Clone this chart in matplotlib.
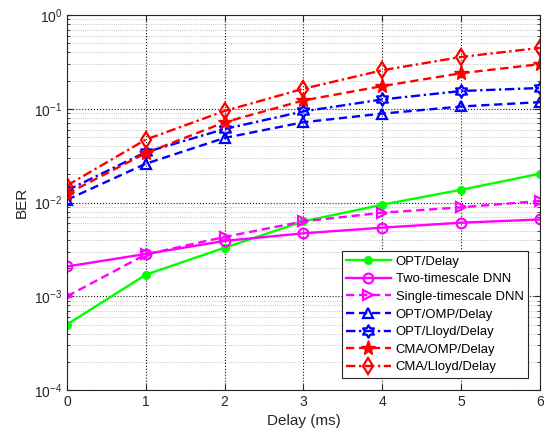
import matplotlib
matplotlib.use("Agg")
import numpy as np
import matplotlib.pyplot as plt
from matplotlib.path import Path
from matplotlib.ticker import LogLocator, NullFormatter

plt.rcParams['font.family'] = ['Liberation Sans', 'DejaVu Sans']
plt.rcParams['mathtext.default'] = 'regular'

delay = [0, 1, 2, 3, 4, 5, 6]
opt_delay = [5.0e-4, 1.7e-3, 3.3e-3, 6.3e-3, 9.5e-3, 1.37e-2, 2.03e-2]
two_ts_dnn = [2.08e-3, 2.83e-3, 3.9e-3, 4.7e-3, 5.4e-3, 6.1e-3, 6.6e-3]
single_ts_dnn = [1.0e-3, 2.8e-3, 4.3e-3, 6.3e-3, 7.8e-3, 8.9e-3, 1.04e-2]
opt_omp = [1.07e-2, 2.6e-2, 4.9e-2, 7.2e-2, 8.9e-2, 0.106, 0.118]
opt_lloyd = [1.35e-2, 3.45e-2, 6.1e-2, 9.4e-2, 0.126, 0.155, 0.167]
cma_omp = [1.24e-2, 3.37e-2, 7.2e-2, 0.123, 0.175, 0.24, 0.30]
cma_lloyd = [1.52e-2, 4.7e-2, 9.5e-2, 0.164, 0.258, 0.358, 0.447]

labels = ['OPT/Delay', 'Two-timescale DNN', 'Single-timescale DNN',
          'OPT/OMP/Delay', 'OPT/Lloyd/Delay', 'CMA/OMP/Delay', 'CMA/Lloyd/Delay']

# six-pointed star (hexagram) marker
ang = np.pi / 2 + np.arange(12) * np.pi / 6
rad = np.where(np.arange(12) % 2 == 0, 1.0, 0.577)
verts = np.column_stack([rad * np.cos(ang), rad * np.sin(ang)])
verts = np.vstack([verts, verts[0]])
hexagram = Path(verts, [Path.MOVETO] + [Path.LINETO] * 11 + [Path.CLOSEPOLY])

fig = plt.figure(figsize=(5.46, 4.4), dpi=100)
ax = fig.add_axes([0.1227, 0.1136, 0.8663, 0.852])

lw = 1.7
mew = 1.6
dash = (0, (3.5, 2))
dashdot = (0, (4, 1.5, 1, 1.5))
ax.plot(delay, opt_delay, color=(0, 1, 0), ls='-', lw=lw, marker='o', ms=5.5,
        mfc=(0, 1, 0), mec=(0, 1, 0), label=labels[0])
ax.plot(delay, two_ts_dnn, color=(1, 0, 1), ls='-', lw=lw, marker='o', ms=7,
        mfc='none', mec=(1, 0, 1), mew=mew, label=labels[1])
ax.plot(delay, single_ts_dnn, color=(1, 0, 1), ls=dash, lw=lw, marker='>', ms=7,
        mfc='none', mec=(1, 0, 1), mew=mew, label=labels[2])
ax.plot(delay, opt_omp, color=(0, 0, 1), ls=dash, lw=lw, marker='^', ms=7,
        mfc='none', mec=(0, 0, 1), mew=mew, label=labels[3])
ax.plot(delay, opt_lloyd, color=(0, 0, 1), ls=dashdot, lw=lw, marker=hexagram, ms=9,
        mfc='none', mec=(0, 0, 1), mew=mew, label=labels[4])
ax.plot(delay, cma_omp, color=(1, 0, 0), ls=dash, lw=lw, marker='*', ms=11,
        mfc=(1, 0, 0), mec=(1, 0, 0), label=labels[5])
ax.plot(delay, cma_lloyd, color=(1, 0, 0), ls=dashdot, lw=lw, marker='d', ms=8,
        mfc='none', mec=(1, 0, 0), mew=mew, label=labels[6])

ax.set_yscale('log')
ax.set_xlim(0, 6)
ax.set_ylim(1e-4, 1)
ax.set_xticks(delay)
ax.yaxis.set_major_locator(LogLocator(base=10, numticks=10))
ax.yaxis.set_minor_locator(LogLocator(base=10, subs=range(2, 10), numticks=20))
ax.yaxis.set_minor_formatter(NullFormatter())

ax.grid(True, which='major', ls=':', color='black', lw=0.8, alpha=0.9)
ax.grid(True, which='minor', axis='y', ls=':', color='gray', lw=0.6, alpha=0.6)
ax.tick_params(which='both', direction='in', top=True, right=True, labelsize=10, colors='#262626')
ax.tick_params(which='major', length=4)
ax.tick_params(which='minor', length=2)
for s in ax.spines.values():
    s.set_color('#262626')
    s.set_linewidth(0.8)

ax.set_xlabel('Delay (ms)', fontsize=11, color='#262626')
ax.set_ylabel('BER', fontsize=11, color='#262626')

leg = ax.legend(loc='lower right', bbox_to_anchor=(0.975, 0.032), borderaxespad=0,
                fontsize=9.4, frameon=True, fancybox=False, edgecolor='#262626', framealpha=1,
                handlelength=3.4, borderpad=0.35, labelspacing=0.42, handletextpad=0.4)
leg.get_frame().set_linewidth(0.8)

fig.savefig('out.png', dpi=100)
